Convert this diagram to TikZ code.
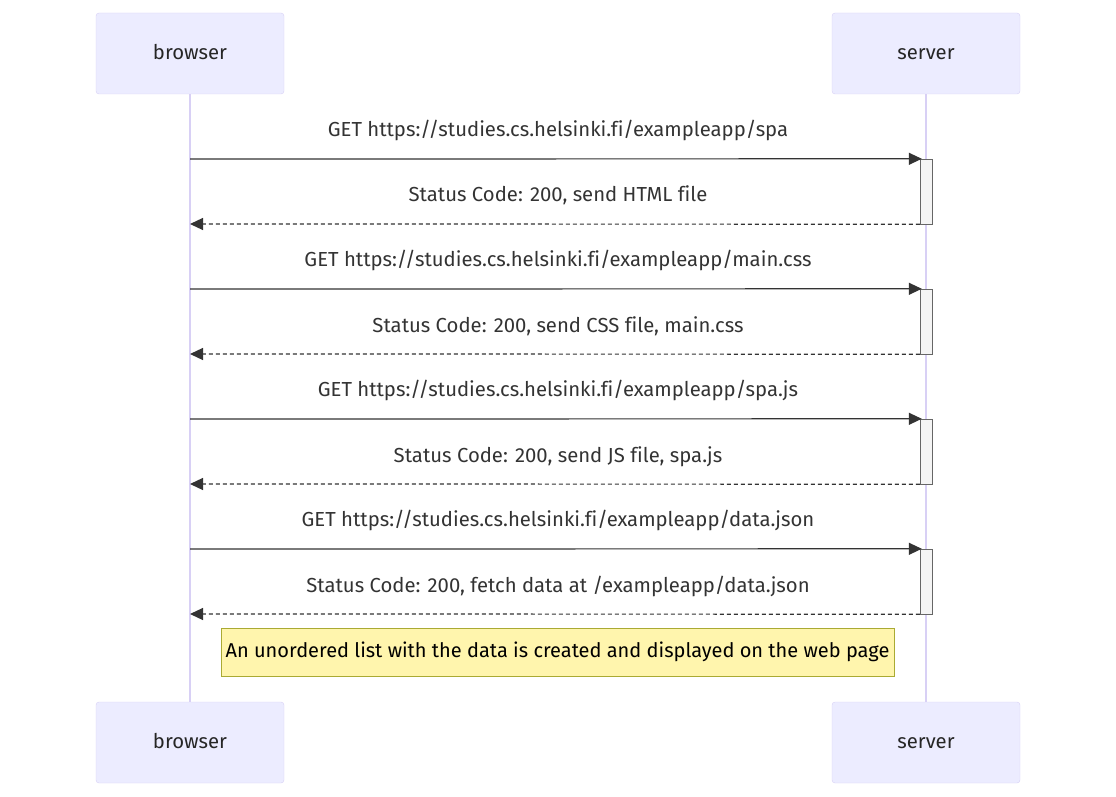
\documentclass[tikz,border=0pt]{standalone}
\usepackage{fontspec}
\setmainfont[Ligatures=NoCommon]{Fira Sans}
\usepackage{xcolor}
\definecolor{actfill}{HTML}{ECECFF}
\definecolor{actline}{HTML}{D8D0F5}
\definecolor{msgcol}{HTML}{333333}
\definecolor{notefill}{HTML}{FFF5AD}
\definecolor{noteline}{HTML}{AAAA33}
\definecolor{barfill}{HTML}{F4F4F4}
\definecolor{barline}{HTML}{666666}
\usetikzlibrary{arrows.meta}
\tikzset{
  txt/.style={font=\fontsize{20.3}{24}\selectfont, text height=1.35em, text depth=0.22em},
  actor/.style={txt, draw=actline, fill=actfill, rounded corners=3pt, minimum width=188pt, minimum height=81pt, text=black!85},
  lifeline/.style={draw=actline, line width=1.5pt},
  msg/.style={draw=msgcol, line width=1.2pt, -{Triangle[length=13pt,width=12pt]}},
  reply/.style={msg, dash pattern=on 4pt off 3pt},
  msglabel/.style={txt, text=msgcol},
  actbar/.style={draw=barline, fill=barfill, minimum width=12pt, inner sep=0pt},
  note/.style={txt, font=\fontsize{20}{24}\selectfont, inner xsep=1pt, draw=noteline, fill=notefill, minimum width=673pt, minimum height=48pt, text=black}
}
\begin{document}
\begin{tikzpicture}[x=1pt,y=-1pt]
    \useasboundingbox (0,0) rectangle (1116,797);
    % Actors
    \node[actor] (browser) at (190,53.5) {browser};
    \node[actor] (server) at (926,53.5) {server};
    \node[actor] (browserB) at (190,742.5) {browser};
    \node[actor] (serverB) at (926,742.5) {server};
    % Lifelines
    \draw[lifeline] (browser.south) -- (browserB.north);
    \draw[lifeline] (server.south) -- (serverB.north);
    % Activation bars
    \node[actbar, minimum height=65pt] (bar1) at (926,191.5) {};
    \node[actbar, minimum height=65pt] (bar2) at (926,321.5) {};
    \node[actbar, minimum height=65pt] (bar3) at (926,451.5) {};
    \node[actbar, minimum height=65pt] (bar4) at (926,581.5) {};
    % Points on the browser lifeline
    \coordinate (b1) at (190,159);
    \coordinate (r1) at (190,224);
    \coordinate (b2) at (190,289);
    \coordinate (r2) at (190,354);
    \coordinate (b3) at (190,419);
    \coordinate (r3) at (190,484);
    \coordinate (b4) at (190,549);
    \coordinate (r4) at (190,614);
    % Requests and replies
    \draw[msg] (b1) -- ([xshift=2pt]bar1.north west);
    \node[msglabel] (m1) at (558,131) {GET https://studies.cs.helsinki.fi/exampleapp/spa};
    \draw[reply] (bar1.south west) -- (r1);
    \node[msglabel] (n1) at (558,196) {Status Code: 200, send HTML file};
    \draw[msg] (b2) -- ([xshift=2pt]bar2.north west);
    \node[msglabel] (m2) at (558,261) {GET https://studies.cs.helsinki.fi/exampleapp/main.css};
    \draw[reply] (bar2.south west) -- (r2);
    \node[msglabel] (n2) at (558,327) {Status Code: 200, send CSS file, main.css};
    \draw[msg] (b3) -- ([xshift=2pt]bar3.north west);
    \node[msglabel] (m3) at (558,391) {GET https://studies.cs.helsinki.fi/exampleapp/spa.js};
    \draw[reply] (bar3.south west) -- (r3);
    \node[msglabel] (n3) at (558,457) {Status Code: 200, send JS file, spa.js};
    \draw[msg] (b4) -- ([xshift=2pt]bar4.north west);
    \node[msglabel] (m4) at (558,521) {GET https://studies.cs.helsinki.fi/exampleapp/data.json};
    \draw[reply] (bar4.south west) -- (r4);
    \node[msglabel] (n4) at (558,587) {Status Code: 200, fetch data at /exampleapp/data.json};
    % Note
    \node[note] (ulnote) at (557.5,652) {An unordered list with the data is created and displayed on the web page};
\end{tikzpicture}
\end{document}
